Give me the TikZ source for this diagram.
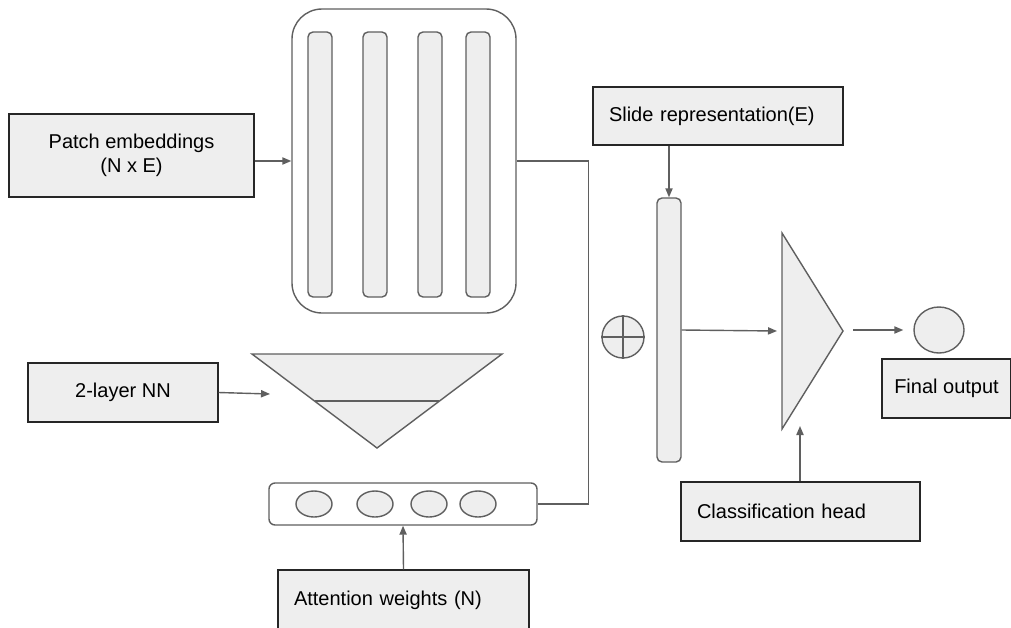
\documentclass[tikz,border=0pt]{standalone}
\usepackage{fontspec}
\setmainfont{Liberation Sans}
\usetikzlibrary{arrows.meta,shapes.geometric}
\definecolor{boxgray}{HTML}{EEEEEE}
\definecolor{edgegray}{HTML}{5F5F5F}
\definecolor{boxline}{HTML}{262626}

\begin{document}
\begin{tikzpicture}[x=0.5pt,y=-0.5pt]
    \tikzstyle{arrow} = [line width=0.7pt,draw=edgegray,->,>={Triangle[length=4.5pt,width=3.6pt]}]
       \tikzset{block/.style = {rectangle, draw=boxline, fill=boxgray, line width=0.6pt, text centered, inner sep=0pt}, }
       \tikzset{note/.style = {block, align=left, inner xsep=8pt}, }
       \tikzset{bar/.style = {rectangle, rounded corners=2.5pt, draw=edgegray, fill=boxgray, line width=0.7pt, minimum width=12pt, inner sep=0pt}, }
       \tikzset{unit/.style = {ellipse, draw=edgegray, fill=boxgray, line width=0.7pt, inner sep=0pt}, }
       \tikzset{layer/.style = {fill=boxgray, draw=edgegray, line width=0.7pt} }
       \useasboundingbox (0,0) rectangle (1011,627);

       % patch embeddings and encoder block
       \node[block, minimum width=122.5pt, minimum height=41.5pt, align=center] (patch) at (131.5,155.5) {Patch embeddings\\(N x E)};
       \node[rectangle, rounded corners=15pt, draw=edgegray, line width=0.7pt, fill=white, minimum width=112pt, minimum height=152pt] (encoder) at (404,161) {};
       \foreach \x [count=\i] in {320,375,430,478}
         \node[bar, minimum height=132.5pt] (enc\i) at (\x,164.5) {};

       % attention network
       \node[block, minimum width=95pt, minimum height=29.5pt] (nn) at (123,392.5) {2-layer NN};
       \filldraw[layer] (252,354) -- (502,354) -- (377,448) -- cycle;
       \draw[edgegray, line width=0.7pt] (315,401) -- (439,401);
       \coordinate (nnin) at (270,394);
       \node[rectangle, rounded corners=3pt, draw=edgegray, line width=0.7pt, fill=white, minimum width=134pt, minimum height=21pt] (attnvec) at (403,504) {};
       \foreach \x [count=\i] in {314,375,429,478}
         \node[unit, minimum width=18pt, minimum height=13pt] (w\i) at (\x,504) {};
       \node[note, text width=109.5pt, minimum height=30pt] (attn) at (403.5,600) {Attention weights (N)};

       % pooling and slide vector
       \node[circle, draw=edgegray, fill=boxgray, line width=0.7pt, minimum size=21pt, inner sep=0pt] (plus) at (623,337) {};
       \draw[edgegray, line width=0.7pt] (plus.north) -- (plus.south) (plus.west) -- (plus.east);
       \node[bar, minimum height=132pt] (slidevec) at (669,330) {};
       \node[note, text width=109pt, minimum height=29pt] (slide) at (718,116) {Slide representation(E)};

       % classification head and output
       \filldraw[layer] (782,233) -- (843,331) -- (782,429) -- cycle;
       \coordinate (headin) at (777,331);
       \coordinate (headout) at (853,330);
       \coordinate (headfoot) at (800,426);
       \node[unit, minimum width=25pt, minimum height=23pt] (out) at (939,330) {};
       \node[block, minimum width=64.5pt, minimum height=29.5pt] (final) at (946.5,388.5) {Final output};
       \node[note, text width=103.5pt, minimum height=29.5pt] (cls) at (800.5,511.5) {Classification head};

       \draw[arrow] (patch.east |- encoder.west) -- (encoder.west);
       \draw[arrow] (nn.east) -- (nnin);
       \draw[arrow] (attn.north) -- (attnvec.south);
       \draw[line width=0.7pt, draw=edgegray] (encoder.east) -- ++(72,0) |- (attnvec.east);
       \draw[arrow] (slidevec.north |- slide.south) -- (slidevec.north);
       \draw[arrow] (slidevec.east) -- (headin);
       \draw[arrow, shorten >=5pt] (headout) -- (out.west);
       \draw[arrow] (cls.north -| headfoot) -- (headfoot);

\end{tikzpicture}
\end{document}
